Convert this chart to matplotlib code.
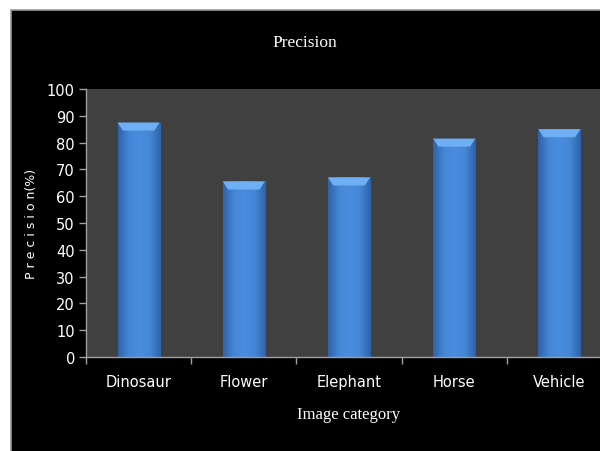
import numpy as np
import matplotlib
matplotlib.use("Agg")
import matplotlib.pyplot as plt
from matplotlib.patches import Rectangle, Polygon
from matplotlib.colors import LinearSegmentedColormap

categories = ["Dinosaur", "Flower", "Elephant", "Horse", "Vehicle"]
precision = [87.5, 65.5, 67.0, 81.5, 85.0]
yticks = [0, 10, 20, 30, 40, 50, 60, 70, 80, 90, 100]

fig = plt.figure(figsize=(6, 4.52), dpi=100)
fig.patch.set_facecolor("white")
# black chart frame, kept behind the axes
fig.patches.append(Rectangle((11 / 600, -0.01), 1, 1.01 - 11 / 452, transform=fig.transFigure,
                             facecolor="black", edgecolor="#9a9a9a", lw=1.2, zorder=-10))

ax = fig.add_axes([86 / 600, 94 / 452, 526 / 600, 268 / 452])
ax.set_facecolor("#404040")

x = np.arange(len(categories))
w = 0.4
bars = ax.bar(x, precision, width=w, color="#3f7fcf", edgecolor="#2d5c98", lw=0.8, zorder=2)

# horizontal shading across each bar
shade = LinearSegmentedColormap.from_list("shade", ["#2f62a8", "#4487d6", "#4a8de0", "#4487d6", "#2f62a8"])
grad = np.linspace(0, 1, 64).reshape(1, -1)
for b, v in zip(bars, precision):
    x0 = b.get_x()
    im = ax.imshow(grad, cmap=shade, aspect="auto", extent=(x0, x0 + w, 0, v),
                   zorder=2.5, interpolation="bicubic")
    im.set_clip_path(b)
    # bevelled cap on top
    d, h = 0.05, 3.0
    cap = Polygon([(x0, v), (x0 + w, v), (x0 + w - d, v - h), (x0 + d, v - h)],
                  closed=True, facecolor="#6fb0f4", edgecolor="none", zorder=3)
    ax.add_patch(cap)

ax.set_xlim(-0.5, len(categories) - 0.5)
ax.set_ylim(0, 100)
ax.set_yticks(yticks)
ax.set_xticks(x)
ax.set_xticklabels(categories)
ax.set_xticks(np.arange(len(categories) + 1) - 0.5, minor=True)
ax.tick_params(axis="x", which="major", length=0, pad=12, colors="white", labelsize=10.5)
ax.tick_params(axis="x", which="minor", length=5, color="#a0a0a0", width=1)
ax.tick_params(axis="y", length=5, color="#a0a0a0", width=1, labelcolor="white", labelsize=10.5, pad=3)
for s in ["top", "right"]:
    ax.spines[s].set_visible(False)
for s in ["left", "bottom"]:
    ax.spines[s].set_color("#a0a0a0")
    ax.spines[s].set_linewidth(1)

fig.text(305 / 600, 1 - 43 / 452, "Precision", color="white", ha="center", va="center",
         family="Liberation Serif", fontsize=12.5)
fig.text(349 / 600, 1 - 415 / 452, "Image category", color="white", ha="center", va="center",
         family="Liberation Serif", fontsize=12)
fig.text(31 / 600, 1 - 224 / 452, "P r e c i s i o n(%)", color="white", ha="center", va="center",
         rotation=90, fontsize=9)

fig.savefig("out.png", dpi=100, facecolor=fig.get_facecolor())
